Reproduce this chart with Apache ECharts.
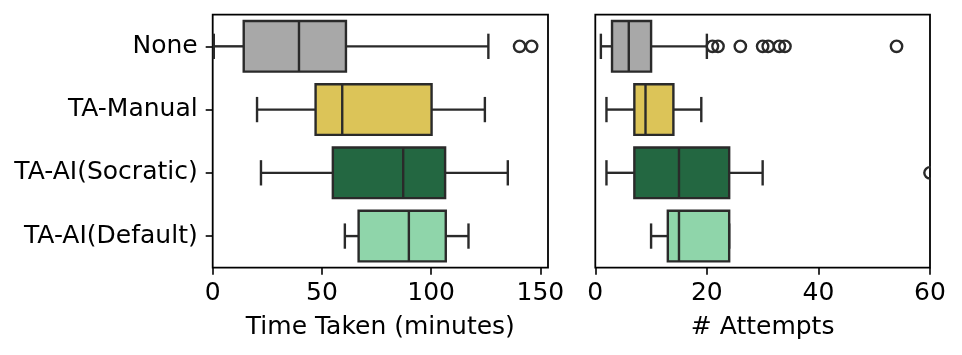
<!DOCTYPE html>
<html>
<head>
<meta charset="utf-8">
<script src="https://cdn.jsdelivr.net/npm/echarts@6/dist/echarts.min.js"></script>
<style>
  html, body { margin: 0; padding: 0; background: #fff; }
  #chart { width: 962px; height: 355px; }
</style>
</head>
<body>
<div id="chart"></div>
<script>
// ---- data ----
const categories = ['None', 'TA-Manual', 'TA-AI(Socratic)', 'TA-AI(Default)'];
const colors = ['#a8a8a8', '#dcc458', '#236741', '#8fd5aa'];

// [low whisker, Q1, median, Q3, high whisker] per category
const timeNone = [0.5, 14.2, 39.5, 61, 126.2];
const timeManual = [20.3, 47.1, 59.3, 100.2, 124.6];
const timeSocratic = [22.1, 55, 87.2, 106.4, 135.1];
const timeDefault = [60.5, 66.8, 89.8, 106.7, 117.1];
const timeOutliersNone = [140.5, 146];

const attemptsNone = [1, 3, 6, 10, 20];
const attemptsManual = [2, 7, 9, 14, 19];
const attemptsSocratic = [2, 7, 15, 24, 30];
const attemptsDefault = [10, 13, 15, 24, 24];
const attemptsOutliersNone = [21, 22, 26, 30, 31, 33, 34, 54];
const attemptsOutliersSocratic = [60];

const timeTicks = [0, 50, 100, 150];
const attemptsTicks = [0, 20, 40, 60];

// ---- build ----
const timeBoxes = [timeNone, timeManual, timeSocratic, timeDefault];
const attemptsBoxes = [attemptsNone, attemptsManual, attemptsSocratic, attemptsDefault];

function boxData(boxes) {
  return boxes.map((b, i) => ({ value: [i].concat(b), itemStyle: { color: colors[i] } }));
}
function outlierData(list) {
  const out = [];
  list.forEach(([cat, vals]) => vals.forEach(v => out.push([cat, v])));
  return out;
}

const EDGE = '#2a2a2a';
const LW = 2.4;
const FONT = 'DejaVu Sans';
const FS = 25;

function renderBox(params, api) {
  const cat = api.value(0);
  const lo = api.value(1), q1 = api.value(2), med = api.value(3), q3 = api.value(4), hi = api.value(5);
  const band = api.size([0, 1])[1];
  const bh = band * 0.4, ch = band * 0.2;
  const y = api.coord([lo, cat])[1];
  const xLo = api.coord([lo, cat])[0];
  const xQ1 = api.coord([q1, cat])[0];
  const xMed = api.coord([med, cat])[0];
  const xQ3 = api.coord([q3, cat])[0];
  const xHi = api.coord([hi, cat])[0];
  const fill = colors[cat];
  const ls = { stroke: EDGE, lineWidth: LW, fill: null };
  return {
    type: 'group',
    children: [
      { type: 'line', shape: { x1: xLo, y1: y, x2: xQ1, y2: y }, style: ls },
      { type: 'line', shape: { x1: xQ3, y1: y, x2: xHi, y2: y }, style: ls },
      { type: 'line', shape: { x1: xLo, y1: y - ch, x2: xLo, y2: y + ch }, style: ls },
      { type: 'line', shape: { x1: xHi, y1: y - ch, x2: xHi, y2: y + ch }, style: ls },
      { type: 'rect', shape: { x: xQ1, y: y - bh, width: xQ3 - xQ1, height: 2 * bh },
        style: { fill: fill, stroke: EDGE, lineWidth: LW } },
      { type: 'line', shape: { x1: xMed, y1: y - bh, x2: xMed, y2: y + bh }, style: ls }
    ]
  };
}

function renderOutlier(params, api) {
  const p = api.coord([api.value(1), api.value(0)]);
  return {
    type: 'circle',
    shape: { cx: p[0], cy: p[1], r: 5.7 },
    style: { fill: 'none', stroke: EDGE, lineWidth: LW }
  };
}

const frame = { show: true, borderColor: '#000', borderWidth: 1.8, backgroundColor: 'transparent' };

function xAxisCfg(idx, max, ticks, name) {
  return {
    type: 'value', gridIndex: idx, min: 0, max: max,
    splitLine: { show: false },
    axisLine: { show: false },
    axisTick: { show: true, customValues: ticks, length: 7, lineStyle: { color: '#000', width: 1.6 } },
    axisLabel: { customValues: ticks, fontSize: FS, color: '#000', fontFamily: FONT, margin: 13 },
    name: name, nameLocation: 'middle', nameGap: 47,
    nameTextStyle: { fontSize: FS, color: '#000', fontFamily: FONT }
  };
}

const option = {
  animation: false,
  backgroundColor: '#fff',
  grid: [
    Object.assign({ left: 212.7, top: 14.7, width: 335.3, height: 253 }, frame),
    Object.assign({ left: 595.3, top: 14.7, width: 334.7, height: 253 }, frame)
  ],
  xAxis: [
    xAxisCfg(0, 153.5, timeTicks, 'Time Taken (minutes)'),
    xAxisCfg(1, 60, attemptsTicks, '# Attempts')
  ],
  yAxis: [
    {
      type: 'category', gridIndex: 0, data: categories, inverse: true,
      axisLine: { show: false },
      axisTick: { show: true, alignWithLabel: true, length: 7, lineStyle: { color: '#000', width: 1.6 } },
      axisLabel: { fontSize: FS, color: '#000', fontFamily: FONT, margin: 15 },
      splitLine: { show: false }
    },
    {
      type: 'category', gridIndex: 1, data: categories, inverse: true,
      axisLine: { show: false }, axisTick: { show: false }, axisLabel: { show: false },
      splitLine: { show: false }
    }
  ],
  series: [
    { type: 'custom', xAxisIndex: 0, yAxisIndex: 0, renderItem: renderBox, clip: false,
      encode: { y: 0, x: [1, 2, 3, 4, 5] }, data: boxData(timeBoxes) },
    { type: 'custom', xAxisIndex: 0, yAxisIndex: 0, renderItem: renderOutlier, clip: true,
      encode: { y: 0, x: 1 }, data: outlierData([[0, timeOutliersNone]]) },
    { type: 'custom', xAxisIndex: 1, yAxisIndex: 1, renderItem: renderBox, clip: false,
      encode: { y: 0, x: [1, 2, 3, 4, 5] }, data: boxData(attemptsBoxes) },
    { type: 'custom', xAxisIndex: 1, yAxisIndex: 1, renderItem: renderOutlier, clip: true,
      encode: { y: 0, x: 1 }, data: outlierData([[0, attemptsOutliersNone], [2, attemptsOutliersSocratic]]) }
  ]
};

const chart = echarts.init(document.getElementById('chart'), null, { renderer: 'canvas' });
chart.setOption(option);
</script>
</body>
</html>
